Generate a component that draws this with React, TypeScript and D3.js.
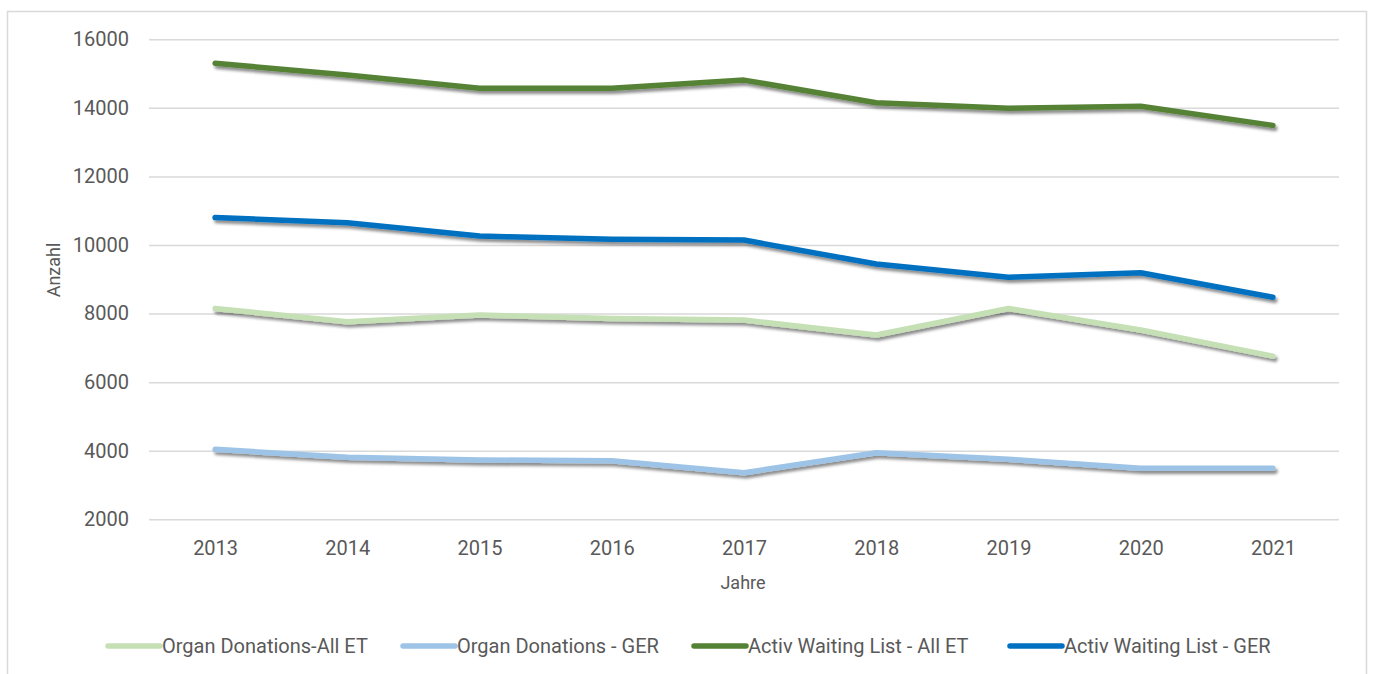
import React, { useRef, useEffect } from 'react';
import * as d3 from 'd3';

// Chart data
const years = ['2013', '2014', '2015', '2016', '2017', '2018', '2019', '2020', '2021'];
const organDonationsAllET = [8150, 7760, 7960, 7860, 7810, 7375, 8150, 7520, 6760];
const organDonationsGER = [4040, 3810, 3730, 3710, 3360, 3940, 3750, 3490, 3490];
const waitingListAllET = [15300, 14960, 14570, 14570, 14810, 14150, 13990, 14050, 13490];
const waitingListGER = [10800, 10650, 10260, 10165, 10145, 9445, 9060, 9190, 8475];
const yTicks = [2000, 4000, 6000, 8000, 10000, 12000, 14000, 16000];

const series = [
  { name: 'Organ Donations-All ET', values: organDonationsAllET, color: '#C5E0B4' },
  { name: 'Organ Donations - GER', values: organDonationsGER, color: '#9DC3E6' },
  { name: 'Activ Waiting List - All ET', values: waitingListAllET, color: '#548235' },
  { name: 'Activ Waiting List - GER', values: waitingListGER, color: '#0070C0' },
];

const WIDTH = 1373;
const HEIGHT = 674;

function LineChart() {
  const svgRef = useRef(null);

  useEffect(() => {
    const svg = d3.select(svgRef.current);
    svg.selectAll('*').remove();

    const font = 'Roboto, "Open Sans", sans-serif';
    const textColor = '#595959';

    // Drop shadow like the office chart
    const defs = svg.append('defs');
    const filter = defs.append('filter')
      .attr('id', 'shadow')
      .attr('x', '-5%').attr('y', '-50%')
      .attr('width', '110%').attr('height', '200%');
    filter.append('feDropShadow')
      .attr('dx', 2).attr('dy', 3)
      .attr('stdDeviation', 1.8)
      .attr('flood-color', '#000')
      .attr('flood-opacity', 0.45);

    svg.append('rect')
      .attr('width', WIDTH).attr('height', HEIGHT)
      .attr('fill', '#fff');

    // chart frame
    svg.append('rect')
      .attr('x', 7.5).attr('y', 11.5)
      .attr('width', 1359).attr('height', 700)
      .attr('fill', 'none')
      .attr('stroke', '#d9d9d9')
      .attr('stroke-width', 1.5);

    const xScale = d3.scalePoint()
      .domain(years)
      .range([149, 1339])
      .padding(0.5);

    const yScale = d3.scaleLinear()
      .domain([2000, 16000])
      .range([519.3, 39.3]);

    // Gridlines
    svg.append('g')
      .attr('class', 'grid')
      .attr('transform', 'translate(149,0)')
      .call(d3.axisLeft(yScale).tickValues(yTicks).tickSize(-1190).tickFormat(() => ''))
      .call(g => g.select('.domain').remove())
      .call(g => g.selectAll('line').attr('stroke', '#d9d9d9').attr('stroke-width', 1.5));

    // Y axis labels
    svg.append('g')
      .attr('transform', 'translate(129,0)')
      .call(d3.axisLeft(yScale).tickValues(yTicks).tickSize(0).tickPadding(0).tickFormat(d3.format('d')))
      .call(g => g.select('.domain').remove())
      .call(g => g.selectAll('text')
        .attr('fill', textColor)
        .style('font-family', font)
        .style('font-size', '20px'));

    // X axis labels
    svg.append('g')
      .attr('transform', 'translate(0,541)')
      .call(d3.axisBottom(xScale).tickSize(0).tickPadding(0))
      .call(g => g.select('.domain').remove())
      .call(g => g.selectAll('text')
        .attr('fill', textColor)
        .style('font-family', font)
        .style('font-size', '20px'));

    // Axis titles
    svg.append('text')
      .attr('transform', 'translate(60,270) rotate(-90)')
      .attr('text-anchor', 'middle')
      .attr('fill', textColor)
      .style('font-family', font)
      .style('font-size', '18px')
      .text('Anzahl');

    svg.append('text')
      .attr('x', 743).attr('y', 589)
      .attr('text-anchor', 'middle')
      .attr('fill', textColor)
      .style('font-family', font)
      .style('font-size', '18px')
      .text('Jahre');

    // Lines
    const line = d3.line<number>()
      .x((d, i) => xScale(years[i]))
      .y(d => yScale(d));

    series.forEach(s => {
      svg.append('path')
        .datum(s.values)
        .attr('d', line)
        .attr('fill', 'none')
        .attr('stroke', s.color)
        .attr('stroke-width', 5.5)
        .attr('stroke-linecap', 'round')
        .attr('stroke-linejoin', 'round')
        .attr('filter', 'url(#shadow)');
    });

    // Legend
    const legendX = [108, 403, 694, 1010];
    const legend = svg.append('g').attr('transform', 'translate(0,646)');
    series.forEach((s, i) => {
      const g = legend.append('g').attr('transform', `translate(${legendX[i]},0)`);
      g.append('line')
        .attr('x1', 0).attr('x2', 52)
        .attr('stroke', s.color)
        .attr('stroke-width', 5.5)
        .attr('stroke-linecap', 'round');
      g.append('text')
        .attr('x', 54).attr('dy', '0.35em')
        .attr('fill', textColor)
        .style('font-family', font)
        .style('font-size', '20px')
        .text(s.name);
    });
  }, []);

  return <svg ref={svgRef} width={WIDTH} height={HEIGHT} style={{ position: 'absolute', left: 0, top: 0 }} />;
}

export default function App() {
  return <LineChart />;
}
